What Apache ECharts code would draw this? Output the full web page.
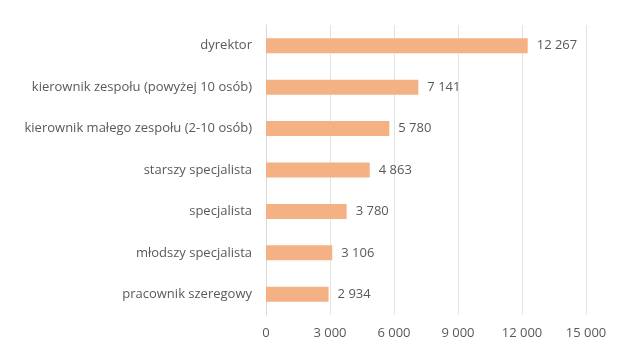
<!DOCTYPE html>
<html>
<head>
<meta charset="utf-8">
<script src="https://cdn.jsdelivr.net/npm/echarts@6/dist/echarts.min.js"></script>
<style>
  html, body { margin: 0; padding: 0; background: #fff; }
  #chart { width: 642px; height: 353px; }
</style>
</head>
<body>
<div id="chart"></div>
<script>
// categories listed bottom -> top (category axis on y starts at the bottom)
let categories = ['pracownik szeregowy', 'młodszy specjalista', 'specjalista', 'starszy specjalista',
    'kierownik małego zespołu (2-10 osób)', 'kierownik zespołu (powyżej 10 osób)', 'dyrektor'];
let values = [2934, 3106, 3780, 4863, 5780, 7141, 12267];
let xTicks = [0, 3000, 6000, 9000, 12000, 15000];

function fmt(v) {
    return String(v).replace(/\B(?=(\d{3})+(?!\d))/g, ' ');
}

var myChart = echarts.init(document.getElementById('chart'));

var option = {
    animation: false,
    textStyle: { fontFamily: 'Open Sans', color: '#595959' },
    grid: {
        left: 266,
        right: 56,
        top: 25,
        bottom: 38
    },
    xAxis: {
        type: 'value',
        min: xTicks[0],
        max: xTicks[xTicks.length - 1],
        interval: 3000,
        axisLine: { show: false },
        axisTick: { show: false },
        splitLine: { lineStyle: { color: '#e3e3e3' } },
        axisLabel: {
            color: '#595959',
            fontSize: 13,
            margin: 12,
            formatter: fmt
        }
    },
    yAxis: {
        type: 'category',
        data: categories,
        axisLine: { show: true, lineStyle: { color: '#d9d9d9' } },
        axisTick: { show: false },
        axisLabel: {
            color: '#595959',
            fontSize: 13,
            margin: 14
        }
    },
    series: [
        {
            type: 'bar',
            data: values,
            barWidth: 15,
            itemStyle: { color: '#F4B183' },
            label: {
                show: true,
                position: 'right',
                distance: 9,
                color: '#595959',
                fontSize: 13,
                formatter: p => fmt(p.value)
            }
        }
    ]
};

myChart.setOption(option);
</script>
</body>
</html>
